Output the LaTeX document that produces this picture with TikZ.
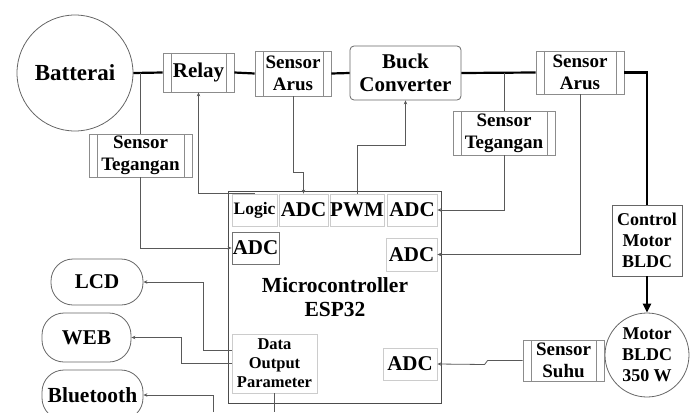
\documentclass[tikz,border=0pt]{standalone}
\usepackage{fontspec}
\setmainfont{Liberation Serif}
\usetikzlibrary{arrows.meta}

\begin{document}
\begin{tikzpicture}[x=1pt,y=-1pt,
  every node/.style={inner sep=0pt, align=center, font=\bfseries\fontsize{21}{23}\selectfont},
  sensorbox/.style={draw=black!45, line width=0.8pt, path picture={
    \draw[black!45, line width=0.8pt] ([xshift=8pt]path picture bounding box.north west) -- ([xshift=8pt]path picture bounding box.south west);
    \draw[black!45, line width=0.8pt] ([xshift=-8pt]path picture bounding box.north east) -- ([xshift=-8pt]path picture bounding box.south east);}},
  pinbox/.style={draw=black!20, line width=0.8pt},
  oval/.style={draw=black!60, line width=0.8pt, rounded corners=22pt},
  wire/.style={draw=black!65, line width=0.8pt},
  sig/.style={wire, -{Stealth[length=4pt,width=3.5pt]}},
  power/.style={draw=black, line width=2.2pt},
  mid/.style={font=\bfseries\fontsize{19}{22}\selectfont},
  small/.style={font=\bfseries\fontsize{18}{21}\selectfont},
  tiny/.style={font=\bfseries\fontsize{16.5}{19}\selectfont}]
\useasboundingbox (0,0) rectangle (690,412);
\begin{scope}
\clip (0,0) rectangle (690,412);
% power path
\node (bat) [circle, draw=black!60, line width=0.8pt, minimum size=116pt, font=\bfseries\fontsize{23}{25}\selectfont] at (75,73) {Batterai};
\node (relay) [sensorbox, minimum width=71pt, minimum height=39pt] at (198.5,72.5) {Relay};
\node (arus1) [sensorbox, minimum width=76pt, minimum height=45pt, mid] at (293,73.5) {Sensor\\Arus};
\node (buck) [draw=black!60, line width=0.8pt, rounded corners=4pt, minimum width=111pt, minimum height=54pt] at (405.5,73) {Buck\\Converter};
\node (arus2) [sensorbox, minimum width=88pt, minimum height=43pt, mid] at (580,72.5) {Sensor\\Arus};
\node (teg1) [sensorbox, minimum width=103pt, minimum height=43pt, mid] at (140.5,155.5) {Sensor\\Tegangan};
\node (teg2) [sensorbox, minimum width=102pt, minimum height=44pt, mid] at (504,133) {Sensor\\Tegangan};
\node (ctrl) [draw=black!60, line width=0.8pt, minimum width=70pt, minimum height=71pt, small] at (647,240.5) {Control\\Motor\\BLDC};
\node (motor) [circle, draw=black!60, line width=0.8pt, minimum size=84pt, small] at (647,355) {Motor\\BLDC\\350 W};
\node (suhu) [sensorbox, minimum width=81pt, minimum height=41pt, mid] at (563.5,360.5) {Sensor\\Suhu};
% microcontroller
\node (mcu) [draw=black!70, line width=1pt, minimum width=213pt, minimum height=212pt] at (334.5,297) {};
\node (esp) [font=\bfseries\fontsize{21.5}{24}\selectfont] at (335,297) {Microcontroller\\ESP32};
\node (logic) [pinbox, minimum width=45pt, minimum height=32pt, font=\bfseries\fontsize{17.5}{20}\selectfont] at (254.5,210) {Logic};
\node (adc1) [pinbox, minimum width=49pt, minimum height=32pt] at (303.5,210) {ADC};
\node (pwm) [pinbox, minimum width=54pt, minimum height=32pt] at (357,210) {PWM};
\node (adc2) [pinbox, minimum width=50pt, minimum height=32pt] at (412,210) {ADC};
\node (adcL) [draw=black!55, line width=0.8pt, minimum width=47pt, minimum height=32pt] at (255.5,248) {ADC};
\node (adcR) [pinbox, minimum width=51pt, minimum height=33pt] at (411.5,254.5) {ADC};
\node (data) [pinbox, minimum width=85pt, minimum height=59pt, tiny] at (274.5,363.5) {Data\\Output\\Parameter};
\node (adcS) [pinbox, minimum width=54pt, minimum height=32pt] at (410,364) {ADC};
% outputs
\node (lcd) [oval, minimum width=92pt, minimum height=46pt] at (97,282) {LCD};
\node (web) [oval, minimum width=89pt, minimum height=49pt] at (86.5,337.5) {WEB};
\node (bt) [oval, minimum width=101pt, minimum height=50pt, font=\bfseries\fontsize{21.5}{24}\selectfont] at (92.5,395) {Bluetooth};
\coordinate (btfree) at (213,412);
\coordinate (datafree) at (274.5,412);
% power connectors
\draw [power] (bat.east) -- (relay.west);
\draw [power] (relay.east) -- (arus1.west);
\draw [power] (arus1.east) -- (buck.west);
\draw [power] (buck.east) -- (arus2.west);
\draw [power] (arus2.east) -| (ctrl.north);
\draw [power, -{Triangle[length=9pt,width=8pt]}] (ctrl.south) -- (motor.north);
% signal connectors
\draw [wire] (teg1.north) -- (teg1.north |- bat.east);
\draw [sig] (teg1.south) |- (adcL.west);
\draw [wire] (teg2.north) -- (teg2.north |- arus2.west);
\draw [sig] (teg2.south) |- (adc2.east);
\draw [sig] (arus2.south) |- (adcR.east);
\draw [sig] (arus1.south) -- ++(0,76) -| (adc1.north);
\draw [sig] (pwm.north) -- ++(0,-48) -| (buck.south);
\draw [sig] (logic.north) -| (relay.south);
\draw [sig] (suhu.west) -- ++(-35,0) -- ++(-3,4) -- (adcS.east);
\draw [sig] ([yshift=13.5pt]data.west) -- ++(-28,0) |- (lcd.east);
\draw [sig] (data.west) -- ++(-50,0) |- (web.east);
\draw [sig] (btfree) |- (bt.east);
\draw [wire] (data.south) -- (datafree);
\end{scope}
\end{tikzpicture}
\end{document}
